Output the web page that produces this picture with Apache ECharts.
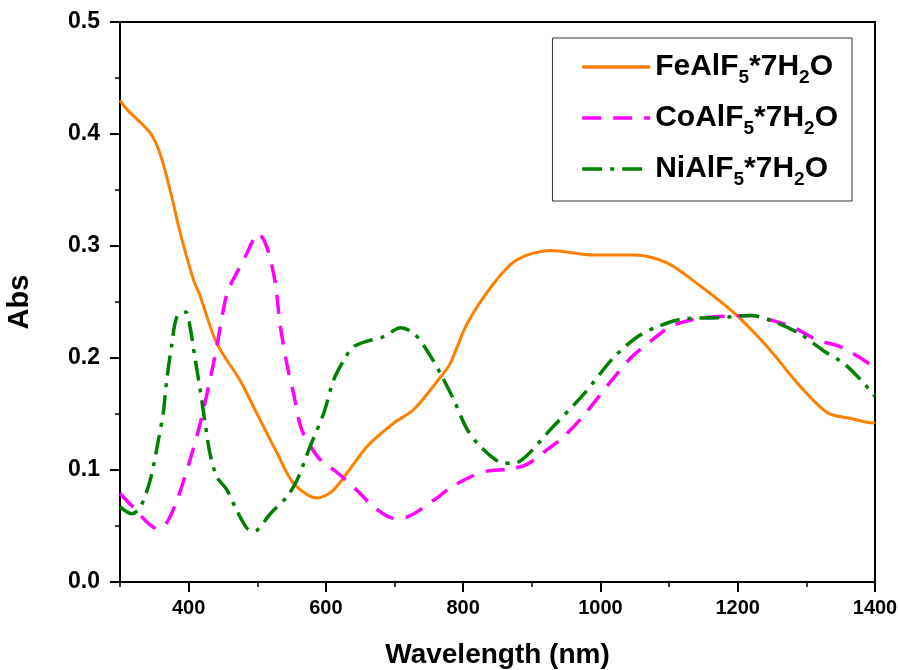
<!DOCTYPE html>
<html>
<head>
<meta charset="utf-8">
<script src="https://cdn.jsdelivr.net/npm/echarts@6/dist/echarts.min.js"></script>
<style>
    html, body { margin: 0; padding: 0; background: #fff; }
    #chart { width: 898px; height: 670px; }
</style>
</head>
<body>
<div id="chart"></div>
<script>
    // FeAlF5*7H2O
    var feX = [300, 310, 344, 358, 373, 388, 407, 417, 441, 475, 499, 529, 553, 587, 611, 660, 699, 728, 767, 781, 806, 845, 879, 927, 990, 1049, 1097, 1146, 1195, 1243, 1292, 1331, 1365, 1397, 1400];
    var feY = [0.430, 0.422, 0.401, 0.383, 0.350, 0.311, 0.270, 0.255, 0.213, 0.180, 0.151, 0.115, 0.088, 0.075, 0.082, 0.121, 0.142, 0.154, 0.183, 0.195, 0.231, 0.267, 0.288, 0.296, 0.292, 0.292, 0.285, 0.264, 0.240, 0.210, 0.174, 0.151, 0.146, 0.142, 0.143];
    // CoAlF5*7H2O
    var coX = [300, 319, 354, 366, 383, 402, 417, 431, 441, 456, 470, 482, 502, 514, 526, 533, 543, 553, 563, 572, 592, 616, 645, 670, 699, 718, 757, 781, 811, 834, 869, 893, 922, 947, 976, 1015, 1044, 1073, 1102, 1132, 1171, 1219, 1243, 1282, 1316, 1350, 1384, 1400];
    var coY = [0.079, 0.067, 0.048, 0.051, 0.073, 0.109, 0.142, 0.180, 0.210, 0.258, 0.276, 0.290, 0.311, 0.299, 0.268, 0.231, 0.195, 0.168, 0.139, 0.127, 0.109, 0.098, 0.082, 0.067, 0.057, 0.058, 0.073, 0.084, 0.094, 0.099, 0.101, 0.105, 0.118, 0.130, 0.149, 0.179, 0.200, 0.215, 0.228, 0.234, 0.237, 0.238, 0.235, 0.227, 0.216, 0.210, 0.198, 0.191];
    // NiAlF5*7H2O
    var niX = [300, 317, 329, 344, 356, 363, 368, 375, 383, 396, 402, 409, 417, 424, 431, 441, 456, 470, 485, 495, 519, 543, 558, 577, 597, 611, 626, 640, 660, 684, 709, 728, 747, 767, 786, 806, 825, 854, 874, 893, 927, 976, 1020, 1054, 1083, 1122, 1171, 1219, 1258, 1292, 1326, 1355, 1380, 1400];
    var niY = [0.067, 0.061, 0.066, 0.091, 0.127, 0.151, 0.180, 0.210, 0.237, 0.241, 0.228, 0.201, 0.171, 0.142, 0.115, 0.094, 0.082, 0.064, 0.048, 0.045, 0.061, 0.076, 0.091, 0.121, 0.151, 0.180, 0.198, 0.210, 0.215, 0.219, 0.227, 0.222, 0.207, 0.186, 0.163, 0.136, 0.121, 0.107, 0.106, 0.113, 0.136, 0.168, 0.201, 0.219, 0.228, 0.235, 0.236, 0.238, 0.231, 0.221, 0.206, 0.195, 0.180, 0.166];

    var names = ['FeAlF5*7H2O', 'CoAlF5*7H2O', 'NiAlF5*7H2O'];
    var xMajor = [400, 600, 800, 1000, 1200, 1400];
    var xMinor = [300, 500, 700, 900, 1100, 1300];

    var font = '"Liberation Sans", Arial, sans-serif';

    function pairs(xs, ys) {
        return xs.map(function (x, i) { return [x, ys[i]]; });
    }

    var chart = echarts.init(document.getElementById('chart'));
    var option = {
        animation: false,
        grid: {
            left: 120, right: 23, top: 22, bottom: 88,
            outerBoundsMode: 'none',
            show: true, borderColor: '#000', borderWidth: 2
        },
        legend: {
            right: 46, top: 38,
            orient: 'vertical',
            itemWidth: 68, itemHeight: 14, itemGap: 16,
            padding: [14, 14, 12, 28],
            borderColor: '#333', borderWidth: 1,
            data: names,
            itemStyle: { opacity: 0 },
            lineStyle: { width: 3.5 },
            formatter: function (n) {
                var m = n.split('F5')[0];
                return '{t|' + m + 'F}{s|5}{t|*7H}{s|2}{t|O}';
            },
            textStyle: {
                rich: {
                    t: { fontFamily: font, fontWeight: 'bold', fontSize: 30, color: '#000' },
                    s: { fontFamily: font, fontWeight: 'bold', fontSize: 19, color: '#000', verticalAlign: 'bottom', padding: [21, 0, 0, 0] }
                }
            }
        },
        xAxis: [{
            type: 'value', min: 300, max: 1400, interval: 100,
            name: 'Wavelength (nm)', nameLocation: 'middle', nameGap: 59,
            nameTextStyle: { fontFamily: font, fontWeight: 'bold', fontSize: 28, color: '#000' },
            axisLine: { lineStyle: { color: '#000', width: 2 } },
            axisTick: { customValues: xMajor, length: 10, lineStyle: { color: '#000', width: 2 } },
            axisLabel: {
                customValues: xMajor, margin: 16,
                formatter: function (v) { return String(v); },
                fontFamily: font, fontWeight: 'bold', fontSize: 20, color: '#000'
            },
            splitLine: { show: false }
        }, {
            type: 'value', min: 300, max: 1400, interval: 100, position: 'bottom',
            axisLine: { show: false },
            axisTick: { customValues: xMinor, length: 5, lineStyle: { color: '#000', width: 1.5 } },
            axisLabel: { show: false },
            splitLine: { show: false }
        }],
        yAxis: {
            type: 'value', min: 0, max: 0.5, interval: 0.1,
            name: 'Abs', nameLocation: 'middle', nameGap: 86,
            nameTextStyle: { fontFamily: font, fontWeight: 'bold', fontSize: 29, color: '#000' },
            axisLine: { show: true, lineStyle: { color: '#000', width: 2 } },
            axisTick: { show: true, length: 10, lineStyle: { color: '#000', width: 2 } },
            minorTick: { show: true, splitNumber: 2, length: 5, lineStyle: { color: '#000', width: 1.5 } },
            axisLabel: {
                margin: 20, formatter: function (v) { return v.toFixed(1); },
                fontFamily: font, fontWeight: 'bold', fontSize: 23, color: '#000'
            },
            splitLine: { show: false }
        },
        series: [{
            name: names[0], type: 'line', data: pairs(feX, feY),
            smooth: 0.3, symbol: 'none',
            itemStyle: { color: '#FF8000' },
            lineStyle: { color: '#FF8000', width: 3 }
        }, {
            name: names[1], type: 'line', data: pairs(coX, coY),
            smooth: 0.3, symbol: 'none',
            itemStyle: { color: '#FF00FF' },
            lineStyle: { color: '#FF00FF', width: 3.5, type: [19, 12] }
        }, {
            name: names[2], type: 'line', data: pairs(niX, niY),
            smooth: 0.3, symbol: 'none',
            itemStyle: { color: '#008000' },
            lineStyle: { color: '#008000', width: 3.5, type: [20, 8, 4, 8] }
        }]
    };
    chart.setOption(option);
</script>
</body>
</html>
